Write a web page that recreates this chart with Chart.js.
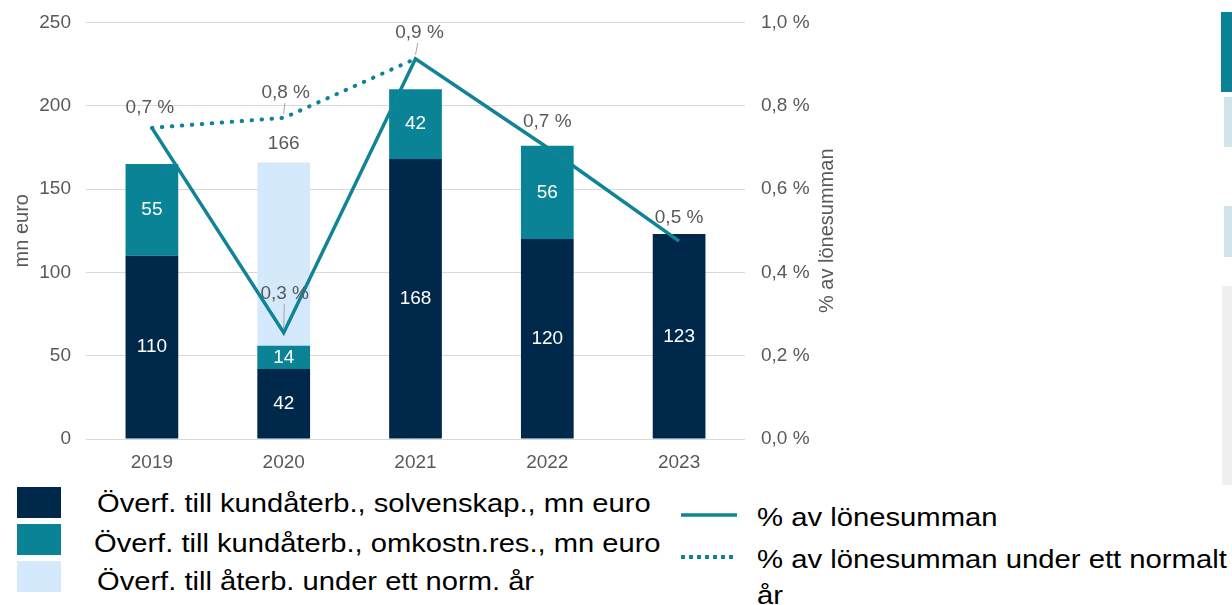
<!DOCTYPE html>
<html>
<head>
<meta charset="utf-8">
<script src="https://cdn.jsdelivr.net/npm/chart.js@4.4.1/dist/chart.umd.min.js"></script>
<style>
  body { margin: 0; background: #fff; width: 1232px; height: 605px; overflow: hidden; position: relative; font-family: "Liberation Sans", Arial, sans-serif; }
  #wrap { position: absolute; left: 0; top: 0; width: 850px; height: 480px; }
  .sw { position: absolute; left: 17px; width: 44px; height: 31px; }
  .lt { position: absolute; font-size: 25px; color: #000; white-space: nowrap; transform-origin: left center; transform: scaleX(1.165); line-height: 30px; }
  .rt { position: absolute; left: 757px; font-size: 25px; color: #000; line-height: 36px; white-space: nowrap; transform-origin: left top; transform: scaleX(1.17); }
  .side { position: absolute; }
</style>
</head>
<body>
<div id="wrap"><canvas id="chart" width="850" height="480"></canvas></div>

<div class="sw" style="top:487px;background:#00284a"></div>
<div class="sw" style="top:524px;background:#0a8397"></div>
<div class="sw" style="top:561px;background:#d5e9fc"></div>
<div class="lt" style="left:97px;top:488px">Överf. till kundåterb., solvenskap., mn euro</div>
<div class="lt" style="left:94px;top:528px">Överf. till kundåterb., omkostn.res., mn euro</div>
<div class="lt" style="left:97px;top:566px">Överf. till återb. under ett norm. år</div>

<svg style="position:absolute;left:681px;top:505px" width="60" height="60">
  <line x1="0" y1="10" x2="56" y2="10" stroke="#0e8496" stroke-width="3.5"/>
  <line x1="0" y1="52" x2="56" y2="52" stroke="#0e8496" stroke-width="4" stroke-dasharray="4 4"/>
</svg>
<div class="rt" style="top:499px">% av lönesumman</div>
<div class="rt" style="top:541px">% av lönesumman under ett normalt<br>år</div>

<div class="side" style="left:1221px;top:12px;width:11px;height:80px;background:#0b8397"></div>
<div class="side" style="left:1224px;top:97px;width:8px;height:50px;background:#cfe5eb"></div>
<div class="side" style="left:1224px;top:206px;width:8px;height:51px;background:#cfe5eb"></div>
<div class="side" style="left:1222px;top:286px;width:10px;height:199px;background:#f0f0f0"></div>

<script>
// data
const years = ['2019', '2020', '2021', '2022', '2023'];
const solvency = [110, 42, 168, 120, 123];
const costResult = [55, 14, 42, 56, null];
const normalYear = [null, 166, null, null, null];
const payrollPct = [0.747, 0.255, 0.913, 0.70, 0.475];
const payrollPctNormal = [0.747, 0.771, 0.913, null, null];
const leftTicks = [0, 50, 100, 150, 200, 250];
const rightTicks = [0, 0.2, 0.4, 0.6, 0.8, 1.0];

const FONT = '"Liberation Sans", Arial, sans-serif';
const GREY = '#595959';

function pct(v) {
    return v.toFixed(1).replace('.', ',') + ' %';
}

// label offsets for the percent labels (dx, dy, leader)
const solidLabelPos = [[-2, -20, false], [1, -39, true], [4, -26, true], [0, -26, false], [0, -23, false]];
const dottedLabelPos = [null, [2, -25, true], null, null, null];

const labelPlugin = {
    id: 'valueLabels',
    afterDatasetsDraw(chart) {
        const ctx = chart.ctx;
        ctx.save();
        ctx.font = '19px ' + FONT;
        ctx.textAlign = 'center';
        ctx.textBaseline = 'middle';

        // white values inside the stacked bars
        [0, 1].forEach(di => {
            chart.getDatasetMeta(di).data.forEach((bar, i) => {
                const v = chart.data.datasets[di].data[i];
                if (v == null) return;
                ctx.fillStyle = '#fff';
                ctx.fillText(String(v), bar.x, (bar.y + bar.base) / 2);
            });
        });

        // total of the normal-year bar above it
        chart.getDatasetMeta(2).data.forEach((bar, i) => {
            const v = normalYear[i];
            if (v == null) return;
            ctx.fillStyle = GREY;
            ctx.fillText(String(v), bar.x, bar.y - 19);
        });

        // percent labels
        function drawPct(meta, values, pos) {
            meta.data.forEach((pt, i) => {
                const p = pos[i];
                if (!p || values[i] == null) return;
                const lx = pt.x + p[0], ly = pt.y + p[1];
                if (p[2]) {
                    ctx.strokeStyle = '#a6a6a6';
                    ctx.lineWidth = 1;
                    ctx.beginPath();
                    ctx.moveTo(lx - p[0] * 0.4, ly + 10);
                    ctx.lineTo(pt.x, pt.y - 4);
                    ctx.stroke();
                }
                ctx.fillStyle = GREY;
                ctx.fillText(pct(values[i]), lx, ly);
            });
        }
        drawPct(chart.getDatasetMeta(3), payrollPct, solidLabelPos);
        drawPct(chart.getDatasetMeta(4), payrollPctNormal, dottedLabelPos);

        // right axis title, reading bottom to top
        const y1 = chart.scales.y1;
        ctx.translate(827, (y1.top + y1.bottom) / 2);
        ctx.rotate(-Math.PI / 2);
        ctx.font = '20px ' + FONT;
        ctx.fillStyle = GREY;
        ctx.fillText('% av lönesumman', 0, 0);
        ctx.restore();
    }
};

const ctx = document.getElementById('chart').getContext('2d');
new Chart(ctx, {
    data: {
        labels: years,
        datasets: [
            { type: 'bar', data: solvency, backgroundColor: '#00284a', stack: 'a', grouped: false, order: 2 },
            { type: 'bar', data: costResult, backgroundColor: '#0a8397', stack: 'a', grouped: false, order: 2 },
            { type: 'bar', data: normalYear, backgroundColor: '#d5e9fc', stack: 'b', grouped: false, order: 3 },
            { type: 'line', data: payrollPct, yAxisID: 'y1', borderColor: '#0e8496', borderWidth: 3.5,
              pointRadius: 0, tension: 0, order: 0 },
            { type: 'line', data: payrollPctNormal, yAxisID: 'y1', borderColor: '#0e8496', borderWidth: 4,
              borderDash: [0.5, 9.5], borderCapStyle: 'round', pointRadius: 0, tension: 0, order: 1 }
        ]
    },
    options: {
        responsive: false,
        animation: false,
        layout: { autoPadding: false, padding: { top: 22.5, bottom: 0, left: 0, right: 0 } },
        datasets: { bar: { categoryPercentage: 1, barPercentage: 0.4 } },
        plugins: { legend: { display: false }, tooltip: { enabled: false } },
        scales: {
            x: {
                stacked: true,
                grid: { display: false },
                border: { display: false },
                ticks: { color: GREY, font: { family: FONT, size: 19 }, padding: 4 },
                afterFit(scale) { scale.height = 41; }
            },
            y: {
                stacked: true,
                min: 0, max: 250,
                afterBuildTicks(scale) { scale.ticks = leftTicks.map(v => ({ value: v })); },
                grid: { color: '#d9d9d9', lineWidth: 1, drawTicks: false },
                border: { display: false },
                ticks: { color: GREY, font: { family: FONT, size: 19 }, padding: 15 },
                title: { display: true, text: 'mn euro', color: GREY, font: { family: FONT, size: 20 }, padding: { top: 10 } },
                afterFit(scale) { scale.width = 86; scale.paddingTop = 0; scale.paddingBottom = 0; }
            },
            y1: {
                position: 'right',
                min: 0, max: 1.0,
                afterBuildTicks(scale) { scale.ticks = rightTicks.map(v => ({ value: v })); },
                grid: { display: false, drawTicks: false },
                border: { display: false },
                ticks: { color: GREY, font: { family: FONT, size: 19 }, padding: 16, callback: v => pct(v) },
                afterFit(scale) { scale.width = 105; scale.paddingTop = 0; scale.paddingBottom = 0; }
            }
        }
    },
    plugins: [labelPlugin]
});
</script>
</body>
</html>
